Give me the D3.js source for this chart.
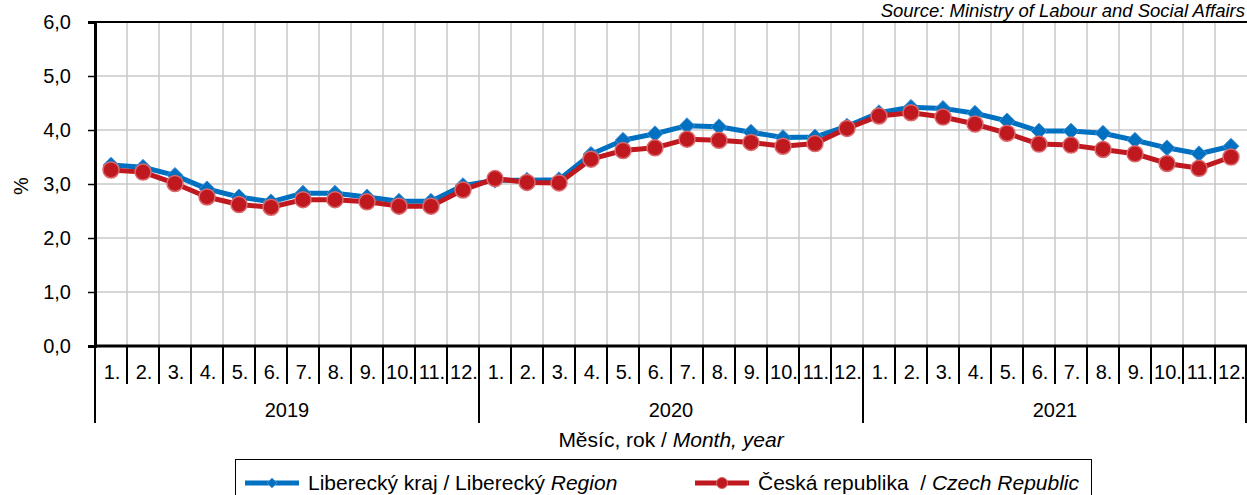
<!DOCTYPE html>
<html>
<head>
<meta charset="utf-8">
<script src="https://cdn.jsdelivr.net/npm/d3@7"></script>
<style>
  body { margin: 0; background: #fff; }
  svg { display: block; font-family: "Liberation Sans", Arial, sans-serif; }
</style>
</head>
<body>
<div id="chart"></div>
<script>
// Data
const years = ['2019', '2020', '2021'];
const monthLabels = ['1.', '2.', '3.', '4.', '5.', '6.', '7.', '8.', '9.', '10.', '11.', '12.'];
const yTicks = [0, 1, 2, 3, 4, 5, 6];

const liberecky = [
    3.35, 3.31, 3.16, 2.91, 2.76, 2.67, 2.83, 2.83, 2.76, 2.68, 2.68, 2.97,
    3.07, 3.07, 3.08, 3.55, 3.81, 3.93, 4.08, 4.06, 3.96, 3.86, 3.87, 4.07,
    4.32, 4.42, 4.40, 4.31, 4.17, 3.98, 3.98, 3.94, 3.81, 3.67, 3.56, 3.70
];
const ceskaRepublika = [
    3.26, 3.22, 3.01, 2.76, 2.62, 2.57, 2.71, 2.71, 2.67, 2.59, 2.59, 2.89,
    3.10, 3.03, 3.02, 3.46, 3.62, 3.67, 3.83, 3.81, 3.77, 3.70, 3.75, 4.03,
    4.26, 4.32, 4.24, 4.11, 3.94, 3.74, 3.72, 3.64, 3.56, 3.38, 3.29, 3.50
];

const W = 1247, H = 495;
const plot = { left: 95, right: 1247, top: 22, bottom: 346 };

const blue = '#0070c0', blueEdge = '#4f8fd0';
const red = '#c0181f', redEdge = '#d86a6e';
const grid = '#c8c8c8';

const svg = d3.select('#chart').append('svg')
    .attr('width', W)
    .attr('height', H);

// Categories: one per month
const keys = [];
years.forEach(y => monthLabels.forEach(m => keys.push(y + '-' + m)));

const x = d3.scaleBand()
    .domain(keys)
    .range([plot.left, plot.right]);

const y = d3.scaleLinear()
    .domain([0, 6])
    .range([plot.bottom, plot.top]);

const cx = i => x(keys[i]) + x.bandwidth() / 2;

// Horizontal gridlines
svg.append('g')
    .selectAll('line')
    .data(yTicks.filter(t => t > 0 && t < 6))
    .enter()
    .append('line')
    .attr('x1', plot.left).attr('x2', plot.right)
    .attr('y1', d => y(d)).attr('y2', d => y(d))
    .attr('stroke', grid).attr('stroke-width', 1.5);

// Vertical gridlines at month boundaries
svg.append('g')
    .selectAll('line')
    .data(keys.slice(1))
    .enter()
    .append('line')
    .attr('x1', d => x(d)).attr('x2', d => x(d))
    .attr('y1', plot.top).attr('y2', plot.bottom)
    .attr('stroke', grid).attr('stroke-width', 1.5);

// Top border
svg.append('line')
    .attr('x1', plot.left).attr('x2', plot.right)
    .attr('y1', plot.top).attr('y2', plot.top)
    .attr('stroke', '#000').attr('stroke-width', 2);

// Y axis
const yAxis = svg.append('g')
    .attr('transform', `translate(${plot.left},0)`)
    .call(d3.axisLeft(y)
        .tickValues(yTicks)
        .tickSize(7)
        .tickPadding(17)
        .tickFormat(d => d3.format('.1f')(d).replace('.', ',')));
yAxis.select('.domain').attr('stroke-width', 3);
yAxis.selectAll('.tick line').attr('stroke-width', 1.5);
yAxis.selectAll('text')
    .style('font-size', '20px')
    .attr('fill', '#000');

svg.append('text')
    .attr('transform', `translate(28,${(plot.top + plot.bottom) / 2 + 2}) rotate(-90)`)
    .attr('text-anchor', 'middle')
    .style('font-size', '20px')
    .text('%');

// X axis: month ticks, then year ticks
svg.append('line')
    .attr('x1', plot.left).attr('x2', plot.right)
    .attr('y1', plot.bottom).attr('y2', plot.bottom)
    .attr('stroke', '#000').attr('stroke-width', 3);

const monthTickBottom = 384, yearTickBottom = 423;

svg.append('g')
    .selectAll('line')
    .data(keys)
    .enter()
    .append('line')
    .attr('x1', d => x(d)).attr('x2', d => x(d))
    .attr('y1', plot.bottom)
    .attr('y2', (d, i) => i % 12 === 0 ? yearTickBottom : monthTickBottom)
    .attr('stroke', '#000').attr('stroke-width', 2);

svg.append('line')
    .attr('x1', plot.right - 1).attr('x2', plot.right - 1)
    .attr('y1', plot.bottom).attr('y2', yearTickBottom)
    .attr('stroke', '#000').attr('stroke-width', 2);

svg.append('g')
    .selectAll('text')
    .data(keys)
    .enter()
    .append('text')
    .attr('x', (d, i) => cx(i) + 1)
    .attr('y', 379)
    .attr('text-anchor', 'middle')
    .style('font-size', '20px')
    .text(d => d.split('-')[1]);

svg.append('g')
    .selectAll('text')
    .data(years)
    .enter()
    .append('text')
    .attr('x', (d, i) => (x(keys[i * 12]) + x(keys[i * 12 + 11]) + x.bandwidth()) / 2)
    .attr('y', 417)
    .attr('text-anchor', 'middle')
    .style('font-size', '20px')
    .text(d => d);

const axisTitle = svg.append('text')
    .attr('x', (plot.left + plot.right) / 2)
    .attr('y', 447)
    .attr('text-anchor', 'middle')
    .style('font-size', '21px');
axisTitle.append('tspan').text('Měsíc, rok / ');
axisTitle.append('tspan').style('font-style', 'italic').text('Month, year');

// Source note
svg.append('text')
    .attr('x', 1245)
    .attr('y', 17)
    .attr('text-anchor', 'end')
    .style('font-size', '18.5px')
    .style('font-style', 'italic')
    .text('Source: Ministry of Labour and Social Affairs');

// Series lines
const line = d3.line()
    .x((d, i) => cx(i))
    .y(d => y(d));

svg.append('path')
    .datum(liberecky)
    .attr('fill', 'none')
    .attr('stroke', blue)
    .attr('stroke-width', 5)
    .attr('stroke-linejoin', 'round')
    .attr('d', line);

svg.append('g')
    .selectAll('path')
    .data(liberecky)
    .enter()
    .append('path')
    .attr('d', d3.symbol().type(d3.symbolDiamond2).size(160))
    .attr('transform', (d, i) => `translate(${cx(i)},${y(d)})`)
    .attr('fill', blue)
    .attr('stroke', blueEdge)
    .attr('stroke-width', 1);

svg.append('path')
    .datum(ceskaRepublika)
    .attr('fill', 'none')
    .attr('stroke', red)
    .attr('stroke-width', 5)
    .attr('stroke-linejoin', 'round')
    .attr('d', line);

svg.append('g')
    .selectAll('circle')
    .data(ceskaRepublika)
    .enter()
    .append('circle')
    .attr('cx', (d, i) => cx(i))
    .attr('cy', d => y(d))
    .attr('r', 8)
    .attr('fill', red)
    .attr('stroke', redEdge)
    .attr('stroke-width', 1.5);

// Legend
const legend = svg.append('g');
legend.append('rect')
    .attr('x', 235.5).attr('y', 459.5)
    .attr('width', 856).attr('height', 50)
    .attr('fill', '#fff')
    .attr('stroke', '#000').attr('stroke-width', 1);

const legendItems = [
    { x: 245, color: blue, edge: blueEdge, marker: 'diamond', parts: ['Liberecký kraj / Liberecký ', 'Region'] },
    { x: 695, color: red, edge: redEdge, marker: 'circle', parts: ['Česká republika  / ', 'Czech Republic'] }
];

legendItems.forEach(item => {
    const g = legend.append('g');
    g.append('line')
        .attr('x1', item.x).attr('x2', item.x + 54)
        .attr('y1', 483).attr('y2', 483)
        .attr('stroke', item.color).attr('stroke-width', 5);
    if (item.marker === 'diamond') {
        g.append('path')
            .attr('d', d3.symbol().type(d3.symbolDiamond2).size(60))
            .attr('transform', `translate(${item.x + 27},483)`)
            .attr('fill', item.color).attr('stroke', item.edge);
    } else {
        g.append('circle')
            .attr('cx', item.x + 27).attr('cy', 483).attr('r', 5.5)
            .attr('fill', item.color).attr('stroke', item.edge);
    }
    const t = g.append('text')
        .attr('x', item.x + 63)
        .attr('y', 490)
        .style('font-size', '21px')
        .style('white-space', 'pre');
    t.append('tspan').text(item.parts[0]);
    t.append('tspan').style('font-style', 'italic').text(item.parts[1]);
});
</script>
</body>
</html>
